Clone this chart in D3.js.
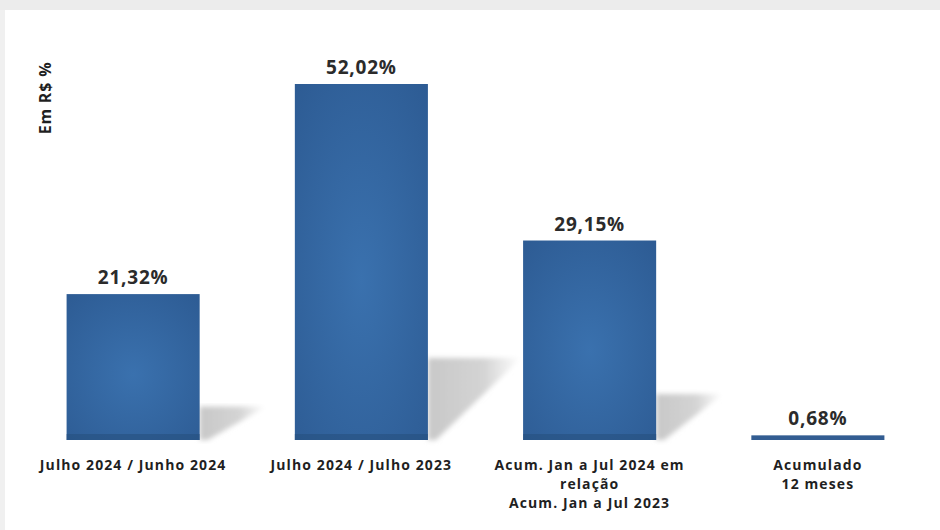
<!DOCTYPE html>
<html>
<head>
<meta charset="utf-8">
<script src="https://cdn.jsdelivr.net/npm/d3@7"></script>
<style>
  body { margin: 0; background: #fff; }
  svg { display: block; }
</style>
</head>
<body>
<div id="chart"></div>
<script>
const categories = [
    ["Julho 2024 / Junho 2024"],
    ["Julho 2024 / Julho 2023"],
    ["Acum. Jan a Jul 2024 em", "relação", "Acum. Jan a Jul 2023"],
    ["Acumulado", "12 meses"]
]
const values = [21.32, 52.02, 29.15, 0.68]
const valueLabels = ["21,32%", "52,02%", "29,15%", "0,68%"]
const axisLabel = "Em R$ %"

const width = 940
const height = 530
const baseY = 440
const font = "'Open Sans', sans-serif"

const svg = d3.select("#chart")
    .append("svg")
    .attr("width", width)
    .attr("height", height)

// frame look of the screenshot
svg.append("rect").attr("width", width).attr("height", height).attr("fill", "#fff")
svg.append("rect").attr("width", width).attr("height", 10).attr("fill", "#ececec")
svg.append("rect").attr("y", 10).attr("width", 5).attr("height", height - 10).attr("fill", "#f0f0f0")

const defs = svg.append("defs")
const barGrad = defs.append("radialGradient")
    .attr("id", "barGrad")
    .attr("cx", "50%").attr("cy", "55%").attr("r", "75%")
barGrad.append("stop").attr("offset", "0%").attr("stop-color", "#3a71ae")
barGrad.append("stop").attr("offset", "100%").attr("stop-color", "#2d5b93")

const shadowGrad = defs.append("linearGradient")
    .attr("id", "shadowGrad")
    .attr("x1", "0%").attr("x2", "100%").attr("y1", "0%").attr("y2", "0%")
shadowGrad.append("stop").attr("offset", "0%").attr("stop-color", "#c8c8c8")
shadowGrad.append("stop").attr("offset", "60%").attr("stop-color", "#d4d4d4")
shadowGrad.append("stop").attr("offset", "100%").attr("stop-color", "#ffffff")

defs.append("filter").attr("id", "soft")
    .append("feGaussianBlur").attr("stdDeviation", 2.5)

const xScale = d3.scaleBand()
    .domain(d3.range(values.length))
    .range([19, 932])
    .paddingInner(0.417)
    .paddingOuter(0.2085)

const yScale = d3.scaleLinear()
    .domain([0, 52.02])
    .range([baseY, 84])

// shadows behind bars
svg.selectAll("path.shadow")
    .data(values.filter(v => v > 5))
    .enter()
    .append("path")
    .attr("class", "shadow")
    .attr("fill", "url(#shadowGrad)")
    .attr("filter", "url(#soft)")
    .attr("d", (d, i) => {
        const x1 = xScale(i) + xScale.bandwidth()
        const h = baseY - yScale(d)
        const top = baseY - 0.23 * h
        const reach = xScale.bandwidth() * (h > 300 ? 0.7 : 0.5)
        return `M${x1},${baseY} L${x1},${top} L${x1 + reach},${top} L${x1 + 8},${baseY} Z`
    })

svg.selectAll("rect.bar")
    .data(values)
    .enter()
    .append("rect")
    .attr("class", "bar")
    .attr("x", (d, i) => xScale(i))
    .attr("y", d => yScale(d))
    .attr("width", xScale.bandwidth())
    .attr("height", d => baseY - yScale(d))
    .attr("fill", d => d > 5 ? "url(#barGrad)" : "#335d92")

// darker foot of the bars
svg.selectAll("rect.foot")
    .data(values.filter(v => v > 5))
    .enter()
    .append("rect")
    .attr("x", (d, i) => xScale(i))
    .attr("y", baseY - 6)
    .attr("width", xScale.bandwidth())
    .attr("height", 6)
    .attr("fill", "#27507f")
    .attr("opacity", 0.6)

svg.selectAll("text.value")
    .data(values)
    .enter()
    .append("text")
    .attr("class", "value")
    .attr("x", (d, i) => xScale(i) + xScale.bandwidth() / 2)
    .attr("y", d => yScale(d) - 10)
    .attr("text-anchor", "middle")
    .attr("font-family", font)
    .attr("font-weight", "bold")
    .attr("font-size", 19)
    .attr("letter-spacing", 0.8)
    .attr("fill", "#2b2b2b")
    .text((d, i) => valueLabels[i])

const catText = svg.selectAll("text.cat")
    .data(categories)
    .enter()
    .append("text")
    .attr("class", "cat")
    .attr("text-anchor", "middle")
    .attr("font-family", font)
    .attr("font-weight", "bold")
    .attr("font-size", 14)
    .attr("letter-spacing", 1.1)
    .attr("fill", "#1f1f1f")

catText.selectAll("tspan")
    .data((d, i) => d.map(line => ({line, i})))
    .enter()
    .append("tspan")
    .attr("x", d => xScale(d.i) + xScale.bandwidth() / 2)
    .attr("y", (d, j) => 470 + j * 19)
    .text(d => d.line)

svg.append("text")
    .attr("transform", "translate(51,98) rotate(-90)")
    .attr("text-anchor", "middle")
    .attr("font-family", font)
    .attr("font-weight", "bold")
    .attr("font-size", 16)
    .attr("letter-spacing", 0.8)
    .attr("fill", "#1f1f1f")
    .text(axisLabel)
</script>
</body>
</html>
